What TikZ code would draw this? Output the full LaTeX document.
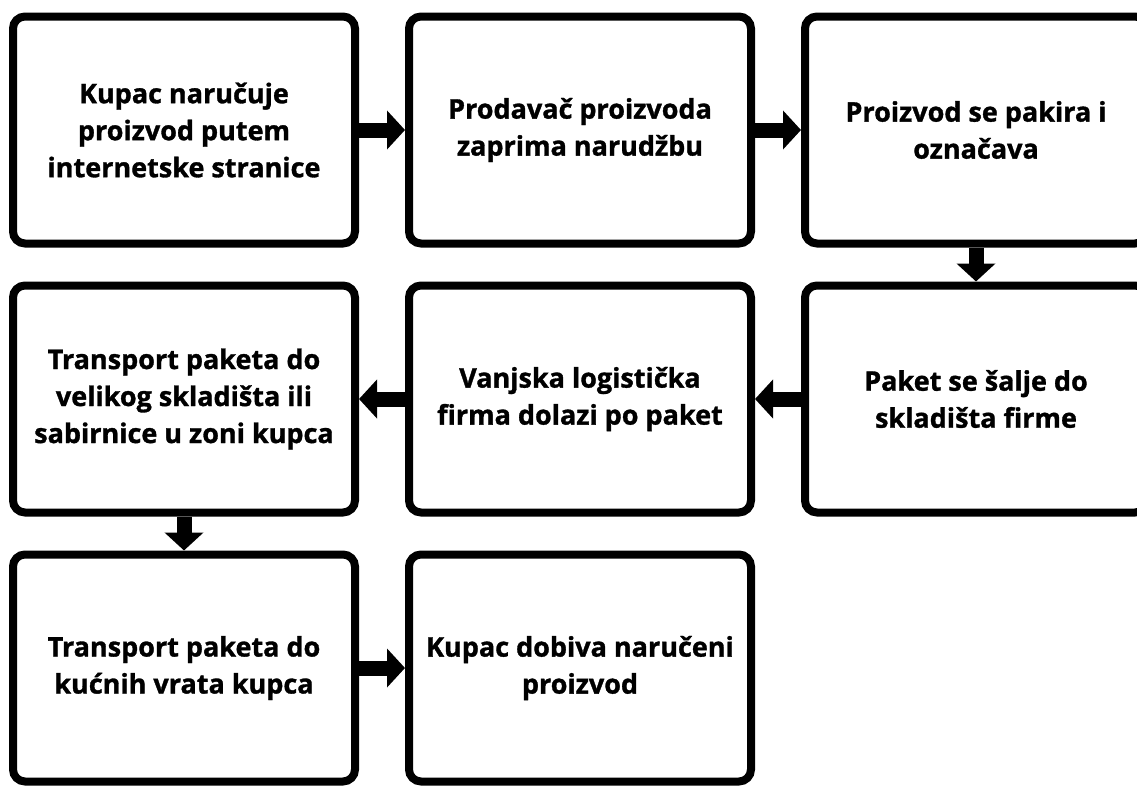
\documentclass[tikz,border=0pt]{standalone}
\usepackage{fontspec}
\setmainfont{Open Sans}[BoldFeatures={FakeBold=1.2}]
\usetikzlibrary{positioning,arrows.meta}

\begin{document}
\begin{tikzpicture}[x=1pt, y=1pt, node distance=34pt and 46pt,
  box/.style={rectangle, draw, line width=8pt, rounded corners=12pt, align=center, minimum width=342pt, minimum height=227pt, font=\fontsize{27}{37}\selectfont\bfseries},
  flow/.style={line width=15pt, -{Triangle[width=38pt,length=18pt]}}]

  \useasboundingbox (0,0) rectangle (1137,-787);
  \clip (0,0) rectangle (1137,-787);

  % First row: ordering
  \node (k1) [box] at (184,-130) {Kupac naručuje\\proizvod putem\\internetske stranice};
  \node (k2) [box, right=of k1] {Prodavač proizvoda\\zaprima narudžbu};
  \node (k3) [box, right=of k2] {Proizvod se pakira i\\označava};

  % Second row: going back to the left
  \node (k4) [box, below=of k3] {Paket se šalje do\\skladišta firme};
  \node (k5) [box, left=of k4] {Vanjska logistička\\firma dolazi po paket};
  \node (k6) [box, left=of k5] {Transport paketa do\\velikog skladišta ili\\sabirnice u zoni kupca};

  % Third row: delivery
  \node (k7) [box, below=of k6] {Transport paketa do\\kućnih vrata kupca};
  \node (k8) [box, right=of k7] {Kupac dobiva naručeni\\proizvod};

  % Arrows between the steps
  \draw[flow] (k1) -- (k2);
  \draw[flow] (k2) -- (k3);
  \draw[flow] (k3) -- (k4);
  \draw[flow] (k4) -- (k5);
  \draw[flow] (k5) -- (k6);
  \draw[flow] (k6) -- (k7);
  \draw[flow] (k7) -- (k8);

\end{tikzpicture}
\end{document}
